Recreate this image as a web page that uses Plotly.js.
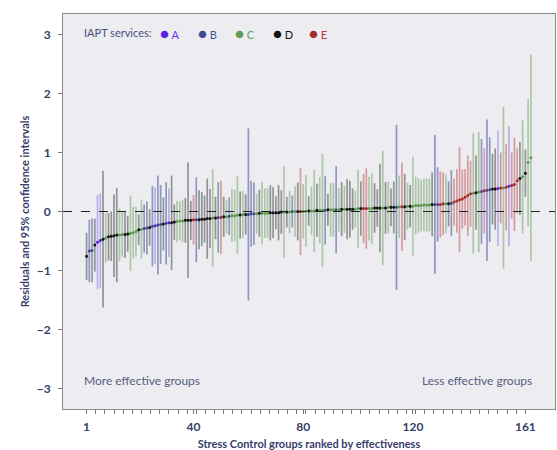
<!DOCTYPE html>
<html>
<head>
<meta charset="utf-8">
<script src="https://cdn.plot.ly/plotly-3.0.1.min.js"></script>
<style>html,body{margin:0;padding:0;background:#fff;}#chart{width:557px;height:450px;}</style>
</head>
<body>
<div id="chart"></div>
<script>
// Residual (point) for each Stress Control group, ranked by effectiveness (1..163)
const residual = [
 -0.76,-0.67,-0.66,-0.57,-0.52,-0.49,-0.47,-0.45,-0.43,-0.42,
 -0.41,-0.40,-0.40,-0.39,-0.39,-0.38,-0.37,-0.36,-0.34,-0.31,
 -0.30,-0.29,-0.28,-0.27,-0.25,-0.24,-0.23,-0.22,-0.21,-0.20,
 -0.19,-0.19,-0.18,-0.17,-0.16,-0.16,-0.15,-0.15,-0.15,-0.14,
 -0.14,-0.14,-0.13,-0.13,-0.12,-0.12,-0.11,-0.11,-0.10,-0.10,
 -0.09,-0.09,-0.08,-0.07,-0.07,-0.06,-0.06,-0.05,-0.05,-0.05,
 -0.04,-0.04,-0.04,-0.03,-0.03,-0.03,-0.03,-0.02,-0.02,-0.02,
 -0.02,-0.01,-0.01,-0.01,-0.01,0.00,0.00,0.00,0.00,0.00,
 0.01,0.01,0.01,0.01,0.02,0.02,0.02,0.02,0.03,0.03,
 0.03,0.03,0.03,0.04,0.04,0.04,0.04,0.04,0.04,0.05,
 0.05,0.05,0.05,0.05,0.05,0.06,0.06,0.06,0.06,0.06,
 0.07,0.07,0.07,0.07,0.08,0.08,0.08,0.09,0.09,0.09,
 0.10,0.10,0.10,0.11,0.11,0.11,0.12,0.12,0.12,0.12,
 0.13,0.13,0.13,0.14,0.16,0.18,0.20,0.21,0.24,0.27,
 0.30,0.31,0.32,0.33,0.34,0.35,0.36,0.37,0.38,0.38,
 0.39,0.40,0.40,0.41,0.43,0.44,0.46,0.52,0.56,0.59,
 0.65,0.83,0.91
];
// Half width of the 95% confidence interval for each group
const ciHalfWidth = [
 0.40,0.53,0.54,0.45,0.80,0.80,1.16,0.42,0.40,0.42,
 0.70,0.80,0.45,0.38,0.40,0.30,0.64,0.44,0.42,0.26,
 0.50,0.41,0.45,0.31,0.68,0.65,0.84,0.67,0.45,0.70,
 0.58,0.80,0.30,0.35,0.33,0.36,0.38,0.98,0.33,0.42,
 0.72,0.50,0.46,0.40,0.68,0.50,0.83,0.36,0.60,0.62,
 0.34,0.28,0.32,0.45,0.44,0.66,0.40,0.40,0.34,1.46,
 0.56,0.53,0.34,0.40,0.53,0.42,0.42,0.47,0.43,0.28,
 0.47,0.37,0.78,0.26,0.36,0.27,0.43,0.49,0.74,0.46,
 0.61,0.25,0.41,0.70,0.45,0.56,0.96,0.58,0.27,0.45,
 0.46,0.74,0.37,0.46,0.40,0.51,0.48,0.35,0.31,0.66,
 0.46,0.59,0.68,0.54,0.60,0.42,0.32,0.75,0.97,0.44,
 0.44,0.32,0.44,1.40,0.53,0.75,0.56,0.40,0.36,0.84,
 0.49,0.46,0.44,0.45,0.45,0.45,0.54,1.18,0.63,0.56,
 0.53,0.50,0.38,0.56,0.40,0.54,0.89,0.50,0.48,0.68,
 0.56,1.02,0.63,1.02,0.89,0.72,1.20,0.89,0.60,0.69,
 0.98,0.60,1.37,0.73,1.02,0.56,0.79,0.55,0.62,0.96,
 0.40,1.08,1.75
];
// IAPT service of each group
const service = (
 "DBBDAADCDD" + "DDCCDDCCCD" + "CBBDBABBDB" + "ADDCCCDDDE" +
 "BDDDDDCDBE" + "DCBCCCDCDB" + "BBCDCCCDDD" + "DDCDCBCDEC" +
 "CDCCDCCBDC" + "CBCDCDDDCC" + "DEECCDDDCD" + "CDDBCEDCDC" +
 "CCCCCCDBBE" + "ECDBEEEEEE" + "ECDCBEBBDD" + "AECEAEEEDC" + "DCC"
).split("");

const services = ["A","B","C","D","E"];
const pointColor = {A:"#5a1fe6", B:"#3d4a8e", C:"#5f9a4f", D:"#111111", E:"#a22b2b"};
const barColor = {
  A:"rgba(110,85,225,0.40)",
  B:"rgba(60,72,140,0.52)",
  C:"rgba(95,155,80,0.45)",
  D:"rgba(40,40,40,0.45)",
  E:"rgba(185,55,55,0.45)"
};
const xTickVals = [1,40,80,120,161];

const rank = residual.map((_, i) => i + 1);

const traces = [];
services.forEach(s => {
  const idx = rank.map((r,i)=>i).filter(i => service[i] === s);
  traces.push({
    type:"scatter", mode:"markers", showlegend:false, hoverinfo:"skip",
    x: idx.map(i=>rank[i]), y: idx.map(i=>residual[i]),
    marker:{size:1, color:"rgba(0,0,0,0)"},
    error_y:{type:"data", symmetric:true, array: idx.map(i=>ciHalfWidth[i]),
             color: barColor[s], thickness:1.7, width:0}
  });
});
services.forEach(s => {
  const idx = rank.map((r,i)=>i).filter(i => service[i] === s);
  traces.push({
    type:"scatter", mode:"markers", showlegend:false,
    x: idx.map(i=>rank[i]), y: idx.map(i=>residual[i]),
    marker:{size:3, color: pointColor[s]}
  });
});

const minorVals = [];
for (let k = 0; k <= 48; k++) minorVals.push(1 + k * 160 / 48);

const navy = "#383d6b";
const annotations = [
  {xref:"paper", yref:"paper", x:0.038, y:0.952, xanchor:"left", yanchor:"middle",
   text:"IAPT services:", showarrow:false, font:{family:"Lato, sans-serif", size:11, color:"#4a4f7c"}},
  {xref:"paper", yref:"paper", x:0.038, y:0.072, xanchor:"left", yanchor:"middle",
   text:"More effective groups", showarrow:false, font:{family:"Lato, sans-serif", size:12, color:"#585d82"}},
  {xref:"paper", yref:"paper", x:0.958, y:0.072, xanchor:"right", yanchor:"middle",
   text:"Less effective groups", showarrow:false, font:{family:"Lato, sans-serif", size:12, color:"#585d82"}}
];
const legendX = {A:158, B:196, C:233, D:271, E:307};
const letterColor = {A:"#6a35e8", B:"#4a5590", C:"#6aa35a", D:"#111111", E:"#b03a3a"};
services.forEach(s => {
  annotations.push({
    xref:"paper", yref:"paper", x:(legendX[s]-63)/492, y:0.952, xanchor:"left", yanchor:"middle",
    text:"<span style='color:"+pointColor[s]+";font-size:15px'>●</span> <span style='color:"+letterColor[s]+"'>"+s+"</span>",
    showarrow:false, font:{family:"Lato, sans-serif", size:11}
  });
});

const layout = {
  width:557, height:450,
  margin:{l:63, r:2, t:14, b:41},
  paper_bgcolor:"#ffffff", plot_bgcolor:"#ececf1",
  showlegend:false,
  xaxis:{
    range:[-7.6, 171.8], tickmode:"array", tickvals:xTickVals, ticktext:xTickVals.map(String),
    ticks:"outside", ticklen:4, tickcolor:"#777", tickwidth:1,
    ticklabelstandoff:3,
    minor:{tickmode:"array", tickvals:minorVals, ticks:"outside", ticklen:4, tickcolor:"#777", showgrid:false},
    showgrid:false, zeroline:false, showline:true, mirror:true, linecolor:"#8a8a8a", linewidth:1,
    tickfont:{family:"Lato, sans-serif", size:12, color:navy, weight:"bold"},
    title:{text:"<b>Stress Control groups ranked by effectiveness</b>", standoff:13,
           font:{family:"Lato, sans-serif", size:11, color:navy}}
  },
  yaxis:{
    range:[-3.35, 3.35], tickmode:"array", tickvals:[-3,-2,-1,0,1,2,3],
    ticks:"outside", ticklen:4, tickcolor:"#777",
    ticklabelstandoff:5,
    showgrid:false, zeroline:false, showline:true, mirror:true, linecolor:"#8a8a8a", linewidth:1,
    tickfont:{family:"Lato, sans-serif", size:12, color:navy, weight:"bold"},
    title:{text:"<b>Residuals and 95% confidence intervals</b>", standoff:4,
           font:{family:"Lato, sans-serif", size:11, color:navy}}
  },
  shapes:[{type:"line", xref:"paper", yref:"y", x0:0, x1:1, y0:0, y1:0,
           line:{color:"#222", width:1.2, dash:"dash"}, layer:"above"}],
  annotations: annotations
};

Plotly.newPlot("chart", traces, layout, {displayModeBar:false, staticPlot:true});
</script>
</body>
</html>
